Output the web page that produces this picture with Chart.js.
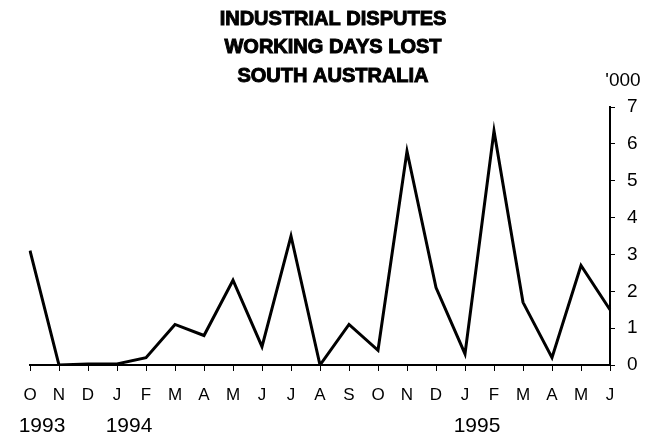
<!DOCTYPE html>
<html>
<head>
<meta charset="utf-8">
<script src="https://cdn.jsdelivr.net/npm/chart.js@4"></script>
<style>
  html, body { margin: 0; padding: 0; background: #fff; }
  #wrap { width: 650px; height: 438px; }
</style>
</head>
<body>
<div id="wrap"><canvas id="myChart" width="650" height="438"></canvas></div>
<script>
const months = ["O", "N", "D", "J", "F", "M", "A", "M", "J", "J", "A",
  "S", "O", "N", "D", "J", "F", "M", "A", "M", "J"];
// working days lost, '000
const daysLost = [3.1, 0, 0.03, 0.03, 0.2, 1.1, 0.8, 2.3, 0.5, 3.5, 0,
  1.1, 0.4, 5.8, 2.1, 0.3, 6.35, 1.7, 0.2, 2.7, 1.5];
const yearLabels = ["1993", "1994", "1995"];
const yearIndex = [0, 3, 15];
const titleLines = ["INDUSTRIAL DISPUTES", "WORKING DAYS LOST", "SOUTH AUSTRALIA"];
const unitLabel = "'000";

const FONT = "'Liberation Sans', Arial, sans-serif";

// title, unit and year labels
const extras = {
  id: "extras",
  afterDraw(chart) {
    const c = chart.ctx;
    const x = chart.scales.x;
    c.save();
    c.fillStyle = "#000";
    c.strokeStyle = "#000";
    c.textAlign = "center";
    c.textBaseline = "middle";
    c.font = "bold 20px " + FONT;
    c.lineWidth = 1;
    const ty = [19, 47, 76];
    titleLines.forEach((t, i) => {
      c.fillText(t, 333, ty[i]);
      c.strokeText(t, 333, ty[i]);
    });

    c.font = "19px " + FONT;
    c.fillText(unitLabel, 623, 81);

    c.font = "21px " + FONT;
    yearLabels.forEach((y, i) => {
      c.fillText(y, x.getPixelForValue(yearIndex[i]) + 12, 426);
    });
    c.restore();
  },
};

const ctx = document.getElementById("myChart").getContext("2d");
const myChart = new Chart(ctx, {
  type: "line",
  data: {
    labels: months,
    datasets: [
      {
        data: daysLost,
        borderColor: "#000",
        borderWidth: 3,
        pointRadius: 0,
        tension: 0,
        borderJoinStyle: "miter",
        fill: false,
      },
    ],
  },
  options: {
    responsive: false,
    animation: false,
    layout: { padding: { top: 107, left: 30, right: 0, bottom: 0 } },
    plugins: { legend: { display: false }, tooltip: { enabled: false } },
    scales: {
      x: {
        offset: false,
        grid: { drawOnChartArea: false, tickLength: 6, color: "#000", lineWidth: 1 },
        border: { display: true, color: "#000", width: 2 },
        ticks: {
          color: "#000",
          font: { family: FONT, size: 17 },
          padding: 14,
          maxRotation: 0,
          autoSkip: false,
        },
        afterFit(scale) { scale.height = 73; },
      },
      y: {
        position: "right",
        min: 0,
        max: 7,
        grid: { drawOnChartArea: false, tickLength: 5, color: "#000", lineWidth: 1 },
        border: { display: true, color: "#000", width: 2 },
        ticks: {
          stepSize: 1,
          color: "#000",
          font: { family: FONT, size: 19 },
          padding: 12,
        },
        afterFit(scale) { scale.width = 40; },
      },
    },
  },
  plugins: [extras],
});
</script>
</body>
</html>
